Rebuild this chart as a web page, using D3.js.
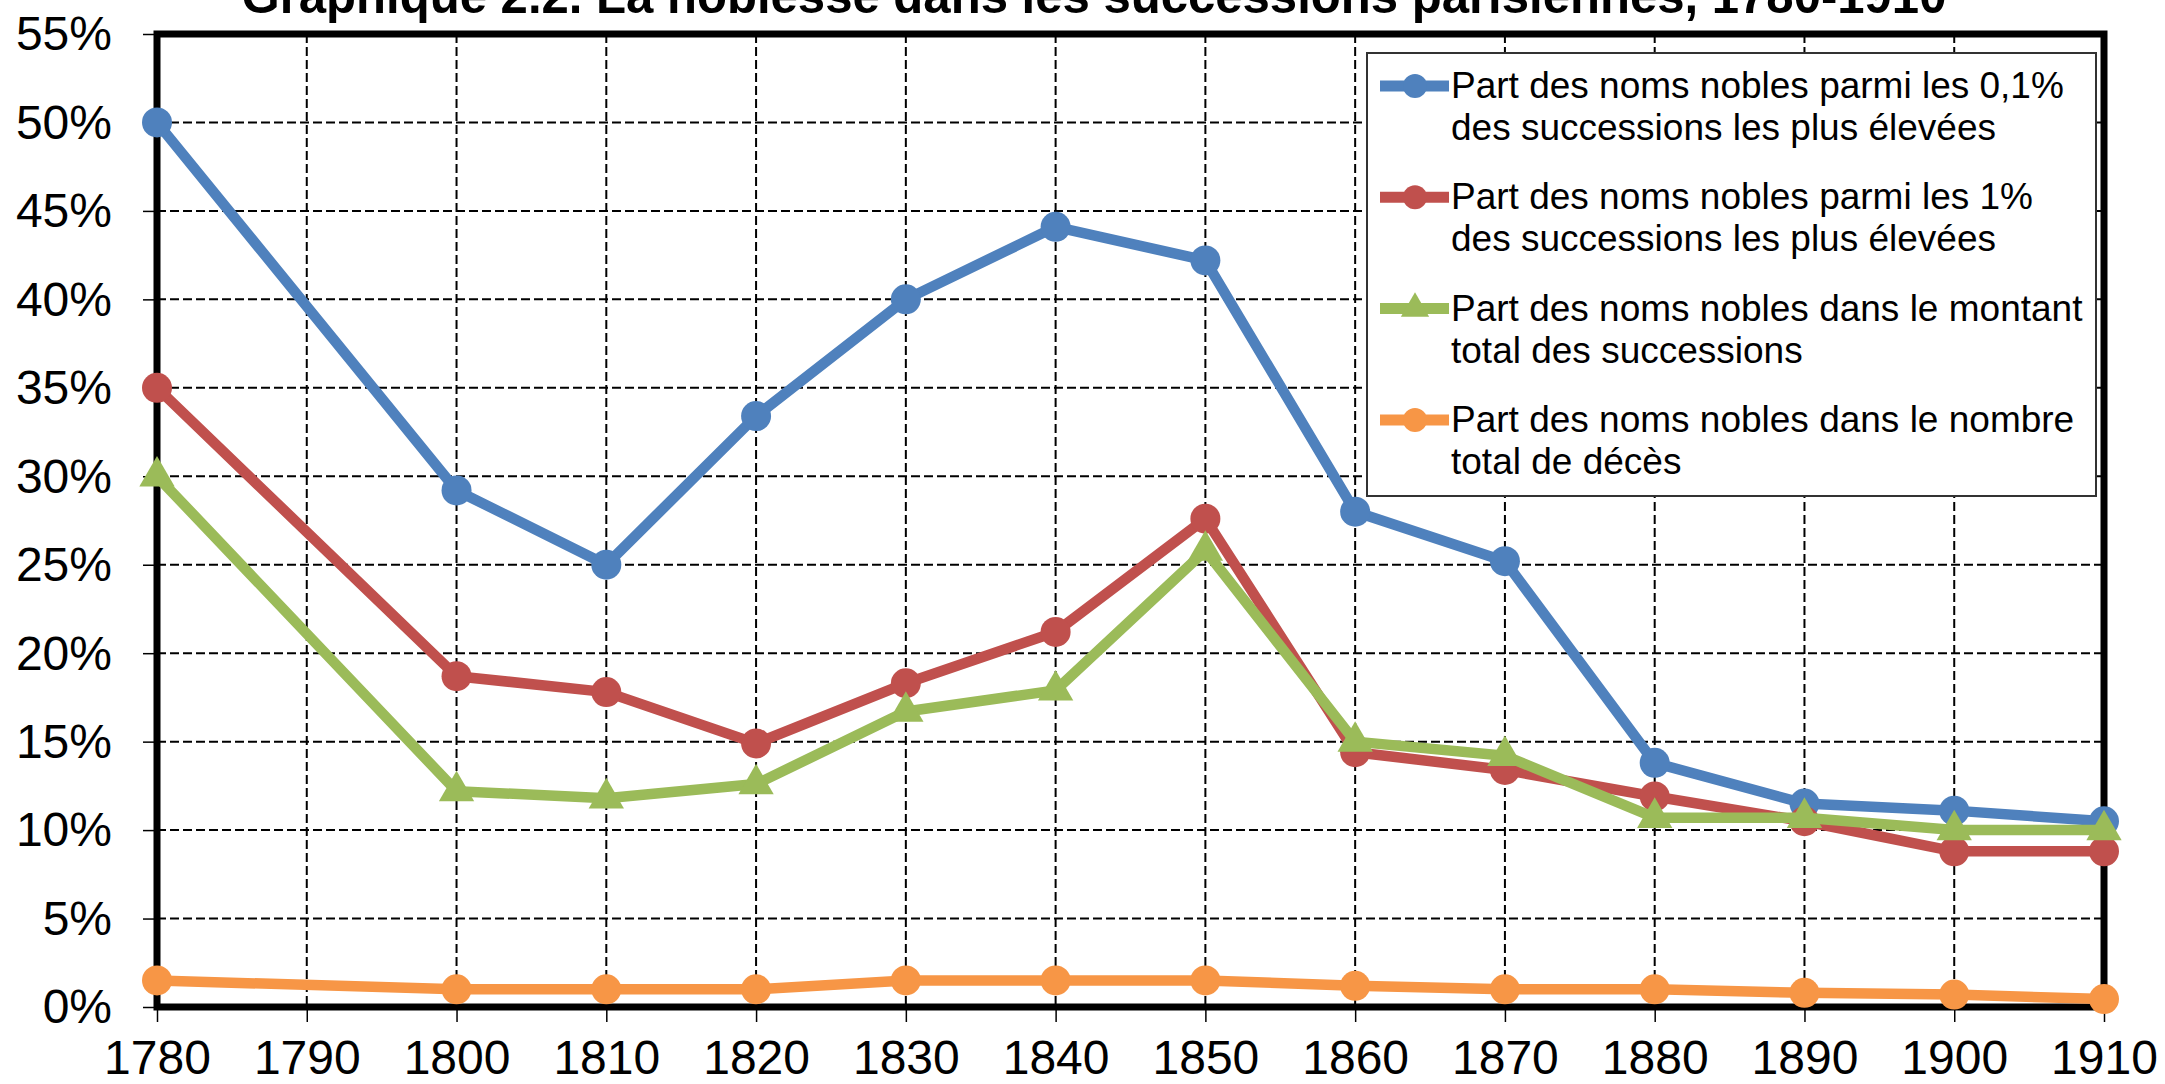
<!DOCTYPE html>
<html>
<head>
<meta charset="utf-8">
<script src="https://cdn.jsdelivr.net/npm/d3@7"></script>
<style>
  body { margin: 0; background: #fff; }
  svg { display: block; font-family: "Liberation Sans", Arial, sans-serif; }
</style>
</head>
<body>
<div id="chart"></div>
<script>
const width = 2165;
const height = 1084;

const title = "Graphique 2.2. La noblesse dans les successions parisiennes, 1780-1910";

// années observées (pas de point en 1790)
const years = [1780, 1800, 1810, 1820, 1830, 1840, 1850, 1860, 1870, 1880, 1890, 1900, 1910];
const xTicks = [1780, 1790, 1800, 1810, 1820, 1830, 1840, 1850, 1860, 1870, 1880, 1890, 1900, 1910];
const yTicks = [0, 5, 10, 15, 20, 25, 30, 35, 40, 45, 50, 55];

// parts en %
const top01 = [50, 29.2, 25.0, 33.4, 40.0, 44.1, 42.2, 28.0, 25.2, 13.8, 11.5, 11.1, 10.5];
const top1 = [35, 18.7, 17.8, 14.9, 18.3, 21.2, 27.6, 14.4, 13.4, 11.9, 10.5, 8.8, 8.8];
const montant = [30, 12.2, 11.8, 12.6, 16.7, 17.9, 25.8, 15.0, 14.2, 10.7, 10.7, 10.0, 10.0];
const deces = [1.5, 1.0, 1.0, 1.0, 1.5, 1.5, 1.5, 1.2, 1.0, 1.0, 0.8, 0.7, 0.45];

const seriesLabels = [
  ["Part des noms nobles parmi les 0,1%", "des successions les plus élevées"],
  ["Part des noms nobles parmi les 1%", "des successions les plus élevées"],
  ["Part des noms nobles dans le montant", "total des successions"],
  ["Part des noms nobles dans le nombre", "total de décès"]
];
const seriesColors = ["#4F81BD", "#C0504D", "#9BBB59", "#F79646"];
const seriesMarkers = ["circle", "circle", "triangle", "circle"];

const series = [top01, top1, montant, deces].map((vals, i) => ({
  label: seriesLabels[i],
  color: seriesColors[i],
  marker: seriesMarkers[i],
  points: years.map((y, j) => ({ year: y, value: vals[j] }))
}));

const plot = { left: 157, right: 2104, top: 34, bottom: 1007 };

const x = d3.scaleLinear().domain([1780, 1910]).range([plot.left, plot.right]);
const y = d3.scaleLinear().domain([0, 55]).range([plot.bottom, plot.top]);

const svg = d3.select("#chart").append("svg")
  .attr("width", width)
  .attr("height", height);

// titre (coupé en haut comme dans l'original)
const titleText = svg.append("text")
  .attr("x", 1094)
  .attr("y", 13)
  .attr("text-anchor", "middle")
  .style("font-weight", "bold")
  .style("font-size", "40px")
  .text(title);
const tw = titleText.node().getComputedTextLength();
titleText.style("font-size", (40 * 1705 / tw) + "px");

// grille
const grid = svg.append("g")
  .attr("stroke", "#000")
  .attr("stroke-width", 2)
  .attr("stroke-dasharray", "9,4");

grid.selectAll(".hgrid")
  .data(yTicks.filter(v => v > 0 && v < 55))
  .join("line")
  .attr("x1", plot.left).attr("x2", plot.right)
  .attr("y1", d => y(d)).attr("y2", d => y(d));

grid.selectAll(".vgrid")
  .data(xTicks.filter(v => v > 1780 && v < 1910))
  .join("line")
  .attr("x1", d => x(d)).attr("x2", d => x(d))
  .attr("y1", plot.top).attr("y2", plot.bottom);

// axes
const yAxis = d3.axisLeft(y)
  .tickValues(yTicks)
  .tickFormat(d => d + "%")
  .tickSize(14)
  .tickPadding(31);

const xAxis = d3.axisBottom(x)
  .tickValues(xTicks)
  .tickFormat(d3.format("d"))
  .tickSize(15)
  .tickPadding(18);

const gy = svg.append("g")
  .attr("transform", `translate(${plot.left},0)`)
  .call(yAxis);
const gx = svg.append("g")
  .attr("transform", `translate(0,${plot.bottom})`)
  .call(xAxis);

[gx, gy].forEach(g => {
  g.select(".domain").remove();
  g.selectAll(".tick line").attr("stroke", "#000").attr("stroke-width", 1.5);
  g.selectAll(".tick text")
    .attr("fill", "#000")
    .style("font-size", "48px")
    .style("font-family", "'Liberation Sans', Arial, sans-serif");
});
gy.selectAll(".tick text").attr("dy", "0.33em");

// cadre de la zone de tracé
svg.append("rect")
  .attr("x", plot.left)
  .attr("y", plot.top)
  .attr("width", plot.right - plot.left)
  .attr("height", plot.bottom - plot.top)
  .attr("fill", "none")
  .attr("stroke", "#000")
  .attr("stroke-width", 7);

// légende (fond blanc, sous les courbes)
const legend = svg.append("g");
legend.append("rect")
  .attr("x", 1367).attr("y", 53)
  .attr("width", 2096 - 1367).attr("height", 496 - 53)
  .attr("fill", "#fff")
  .attr("stroke", "#333")
  .attr("stroke-width", 2);

const line = d3.line().x(d => x(d.year)).y(d => y(d.value));
const triangle = d3.symbol().type(d3.symbolTriangle).size(540);

function drawMarker(sel, s, cx, cy, r) {
  if (s.marker === "triangle") {
    sel.append("path")
      .attr("d", d3.symbol().type(d3.symbolTriangle).size(r * r * 2.4)())
      .attr("transform", `translate(${cx},${cy})`)
      .attr("fill", s.color);
  } else {
    sel.append("circle")
      .attr("cx", cx).attr("cy", cy).attr("r", r)
      .attr("fill", s.color);
  }
}

series.forEach((s, i) => {
  const base = 98 + i * 111.3;
  const ly = base - 12;
  const item = legend.append("g");
  item.append("line")
    .attr("x1", 1380).attr("x2", 1449)
    .attr("y1", ly).attr("y2", ly)
    .attr("stroke", s.color)
    .attr("stroke-width", 11);
  drawMarker(item, s, 1415, ly, 12);
  item.append("text")
    .attr("x", 1451)
    .attr("y", base)
    .style("font-size", "37px")
    .attr("fill", "#000")
    .selectAll("tspan")
    .data(s.label)
    .join("tspan")
    .attr("x", 1451)
    .attr("dy", (d, k) => k === 0 ? 0 : 42)
    .text(d => d);
});

// courbes
series.forEach(s => {
  const g = svg.append("g");
  g.append("path")
    .datum(s.points)
    .attr("d", line)
    .attr("fill", "none")
    .attr("stroke", s.color)
    .attr("stroke-width", 10.5)
    .attr("stroke-linejoin", "round");
  if (s.marker === "triangle") {
    g.selectAll("path.m")
      .data(s.points)
      .join("path")
      .attr("class", "m")
      .attr("d", triangle)
      .attr("transform", d => `translate(${x(d.year)},${y(d.value)})`)
      .attr("fill", s.color);
  } else {
    g.selectAll("circle")
      .data(s.points)
      .join("circle")
      .attr("cx", d => x(d.year))
      .attr("cy", d => y(d.value))
      .attr("r", 15)
      .attr("fill", s.color);
  }
});
</script>
</body>
</html>
